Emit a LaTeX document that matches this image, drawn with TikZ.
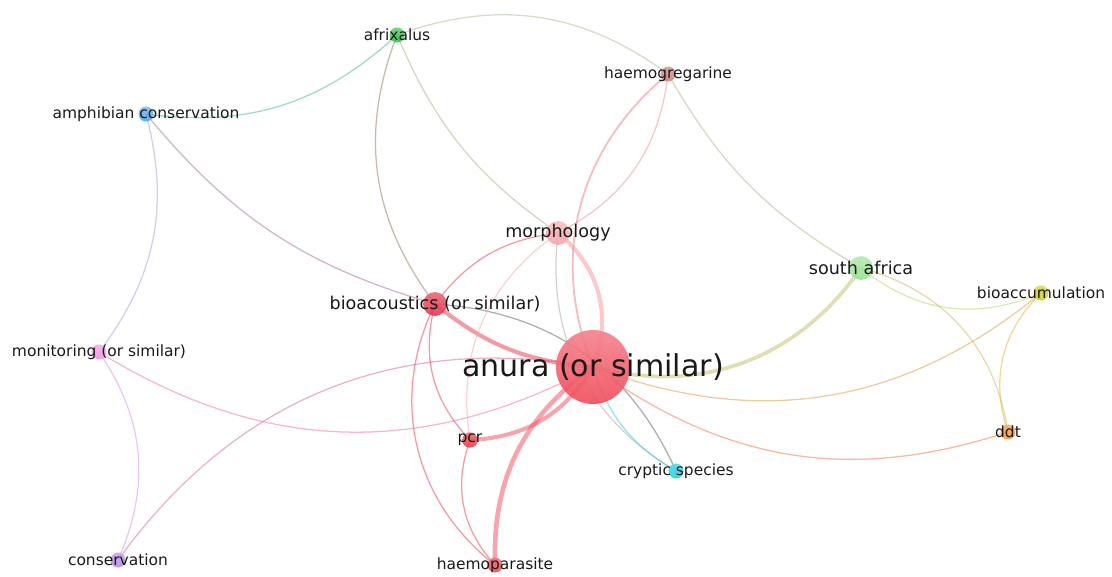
\documentclass[tikz,border=0pt]{standalone}
\usepackage{fontspec}
\setmainfont{DejaVu Sans}
\usetikzlibrary{backgrounds}

\definecolor{anuracol}{RGB}{240,75,90}
\definecolor{acoustcol}{RGB}{230,55,75}
\definecolor{morphcol}{RGB}{245,165,170}
\definecolor{pcrcol}{RGB}{232,60,72}
\definecolor{haemopcol}{RGB}{236,72,80}
\definecolor{haemogcol}{RGB}{205,128,122}
\definecolor{afrixcol}{RGB}{45,195,70}
\definecolor{safrcol}{RGB}{150,225,145}
\definecolor{bioaccumcol}{RGB}{205,205,45}
\definecolor{ddtcol}{RGB}{245,150,55}
\definecolor{crypcol}{RGB}{35,205,225}
\definecolor{amphcol}{RGB}{85,165,230}
\definecolor{moncol}{RGB}{240,150,225}
\definecolor{conscol}{RGB}{180,140,225}

\tikzset{
  kw/.style={circle, inner sep=0pt, minimum size=#1, fill opacity=0.9},
  lab/.style={font=\fontsize{11}{13}\selectfont, text=black!90, inner sep=0pt},
  labmid/.style={lab, font=\fontsize{12.5}{15}\selectfont},
  labbig/.style={lab, font=\fontsize{21.4}{25}\selectfont},
  link/.style={line width=0.9pt, draw opacity=0.5},
  heavy/.style={line width=2.9pt, draw opacity=0.5},
}

\begin{document}
\begin{tikzpicture}[x=0.025cm, y=-0.025cm]
  \useasboundingbox (0,0) rectangle (1112,577);

  \node[kw=52.6pt, top color=anuracol!70!white, bottom color=anuracol] (anura) at (593,367) {};
  \node[kw=17pt, top color=acoustcol!75!white, bottom color=acoustcol] (acoustics) at (435,304) {};
  \node[kw=17pt, top color=morphcol!70!white, bottom color=morphcol] (morph) at (558,233) {};
  \node[kw=17pt, top color=safrcol!70!white, bottom color=safrcol] (safr) at (861,268) {};
  \node[kw=11pt, top color=pcrcol!75!white, bottom color=pcrcol] (pcr) at (470,440) {};
  \node[kw=10.7pt, top color=haemopcol!75!white, bottom color=haemopcol] (haemop) at (495,565) {};
  \node[kw=10.7pt, top color=haemogcol!75!white, bottom color=haemogcol] (haemog) at (668,74) {};
  \node[kw=10.7pt, top color=afrixcol!75!white, bottom color=afrixcol] (afrix) at (397,35) {};
  \node[kw=10.7pt, top color=amphcol!75!white, bottom color=amphcol] (amph) at (146,114) {};
  \node[kw=10.7pt, top color=moncol!75!white, bottom color=moncol] (mon) at (99,352) {};
  \node[kw=10.7pt, top color=conscol!75!white, bottom color=conscol] (cons) at (118,560) {};
  \node[kw=10.7pt, top color=crypcol!75!white, bottom color=crypcol] (cryp) at (676,471) {};
  \node[kw=10.7pt, top color=bioaccumcol!75!white, bottom color=bioaccumcol] (bioaccum) at (1041,293) {};
  \node[kw=10.7pt, top color=ddtcol!75!white, bottom color=ddtcol] (ddt) at (1008,432) {};

  \begin{scope}[on background layer]
    \draw[link, afrixcol!50!amphcol] (afrix.center) to[bend left=25] (amph.center);
    \draw[link, afrixcol!50!haemogcol!70!white] (afrix.center) to[bend left=28] (haemog.center);
    \draw[link, afrixcol!45!acoustcol] (afrix.center) to[bend right=29] (acoustics.center);
    \draw[link, afrixcol!40!morphcol] (afrix.center) to[bend right=16] (morph.center);
    \draw[link, haemogcol!50!safrcol] (haemog.center) to[bend right=15] (safr.center);
    \draw[link, haemogcol!50!morphcol] (haemog.center) to[bend left=28] (morph.center);
    \draw[link, line width=1.3pt, haemogcol!30!anuracol!80!white] (haemog.center) to[bend right=36] (anura.center);
    \draw[link, amphcol!50!acoustcol] (amph.center) to[bend right=17] (acoustics.center);
    \draw[link, amphcol!50!moncol] (amph.center) to[bend left=26] (mon.center);
    \draw[link, moncol!50!conscol] (mon.center) to[bend left=29] (cons.center);
    \draw[link, moncol!50!anuracol] (mon.center) to[bend right=30] (anura.center);
    \draw[link, conscol!40!anuracol] (cons.center) to[bend left=32] (anura.center);
    \draw[heavy, acoustcol] (acoustics.center) to[bend right=17] (anura.center);
    \draw[link, acoustcol] (acoustics.center) to[bend left=23] (morph.center);
    \draw[link, acoustcol] (acoustics.center) to[bend right=29] (pcr.center);
    \draw[link, acoustcol] (acoustics.center) to[bend right=39] (haemop.center);
    \draw[link, acoustcol!50!crypcol!70!black] (acoustics.center) to[bend left=31] (cryp.center);
    \draw[heavy, morphcol!80!anuracol] (morph.center) to[bend left=36] (anura.center);
    \draw[link, morphcol] (morph.center) to[bend right=32] (pcr.center);
    \draw[link, black!35] (morph.center) to[bend right=33] (cryp.center);
    \draw[heavy, anuracol] (anura.center) to[bend left=28] (pcr.center);
    \draw[heavy, line width=3.3pt, anuracol] (anura.center) to[bend right=28] (haemop.center);
    \draw[link, pcrcol] (pcr.center) to[bend right=31] (haemop.center);
    \draw[link, crypcol] (anura.center) to[bend right=21] (cryp.center);
    \draw[heavy, line width=2.6pt, safrcol!55!ddtcol] (anura.center) to[bend right=35] (safr.center);
    \draw[link, anuracol!40!bioaccumcol] (anura.center) to[bend right=30] (bioaccum.center);
    \draw[link, anuracol!50!ddtcol] (anura.center) to[bend right=27] (ddt.center);
    \draw[link, safrcol!50!bioaccumcol] (safr.center) to[bend right=31] (bioaccum.center);
    \draw[link, safrcol!40!ddtcol] (safr.center) to[bend left=33] (ddt.center);
    \draw[link, bioaccumcol!50!ddtcol] (bioaccum.center) to[bend right=32] (ddt.center);
  \end{scope}

  \node[labbig] (anuratext) at (anura) {anura (or similar)};
  \node[labmid] (acousticstext) at (acoustics) {bioacoustics (or similar)};
  \node[labmid] (morphtext) at (morph) {morphology};
  \node[labmid] (safrtext) at (safr) {south africa};
  \node[lab] (pcrtext) at (pcr) {pcr};
  \node[lab] (haemoptext) at (haemop) {haemoparasite};
  \node[lab] (haemogtext) at (haemog) {haemogregarine};
  \node[lab] (afrixtext) at (afrix) {afrixalus};
  \node[lab] (amphtext) at (amph) {amphibian conservation};
  \node[lab] (montext) at (mon) {monitoring (or similar)};
  \node[lab] (constext) at (cons) {conservation};
  \node[lab] (cryptext) at (cryp) {cryptic species};
  \node[lab] (bioaccumtext) at (bioaccum) {bioaccumulation};
  \node[lab] (ddttext) at (ddt) {ddt};
\end{tikzpicture}
\end{document}
